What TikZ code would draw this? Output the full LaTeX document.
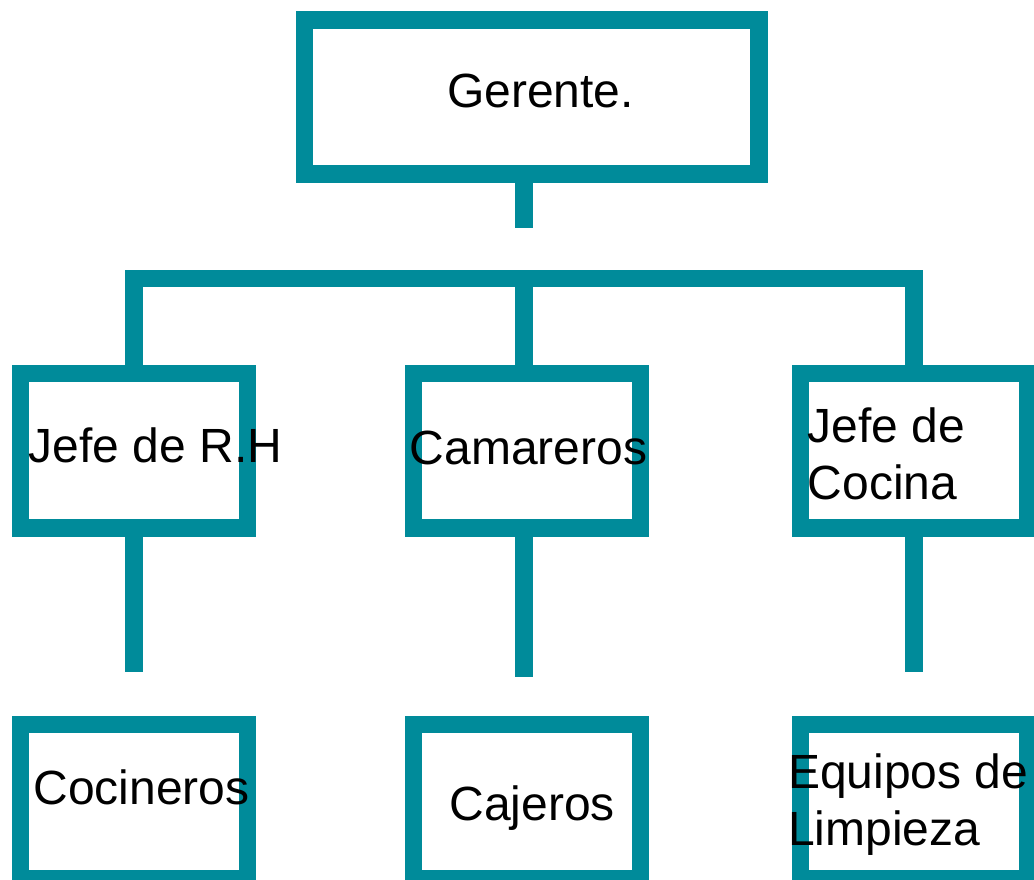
\documentclass[tikz,border=0pt]{standalone}
\usepackage{fontspec}
\setmainfont{Liberation Sans}
\definecolor{teal1}{RGB}{0,139,154}
\begin{document}
\begin{tikzpicture}[x=1pt,y=-1pt,
  box/.style={draw=teal1,line width=17.5pt,minimum width=226.8pt,minimum height=154.5pt,inner sep=0pt},
  link/.style={draw=teal1,line width=17.5pt,line join=miter},
  lbl/.style={inner sep=0pt,font=\fontsize{48}{57}\selectfont,align=left,text=black}]
\useasboundingbox (0,0) rectangle (1034,879);
% boxes
\node[box,minimum width=454.5pt,minimum height=154.4pt] (ger) at (531.5,97) {};
\node[box] (rh) at (134,450.5) {};
\node[box] (cam) at (527,450.5) {};
\node[box] (coc) at (914,450.5) {};
\node[box] (cin) at (134,801.5) {};
\node[box] (caj) at (527,801.5) {};
\node[box] (lim) at (914,801.5) {};
% texts
\node[lbl,anchor=base west] (tger) at (447,107.3) {Gerente.};
\node[lbl,anchor=base west] (trh) at (28.5,462) {Jefe de R.H};
\node[lbl,anchor=base west] (tcam) at (409.5,464) {Camareros};
\node[lbl,anchor=base west] (tcoc) at (807.5,499.5) {Jefe de\\Cocina};
\node[lbl,anchor=base west] (tcin) at (33.3,804) {Cocineros};
\node[lbl,anchor=base west] (tcaj) at (449.3,820) {Cajeros};
\node[lbl,anchor=base west] (tlim) at (788,845) {Equipos de\\Limpieza};
% connector points
\coordinate (bar) at (0,278.7);
\coordinate (s0) at (524,227.7);
\coordinate (s1) at (134,671.7);
\coordinate (s2) at (524,677.3);
\coordinate (s3) at (914,671.7);
% connectors
\draw[link] (s0 |- ger.south) -- (s0);
\draw[link] (rh.north) |- (coc.north |- bar) -- (coc.north);
\draw[link] (s0 |- bar) -- (s0 |- cam.north);
\draw[link] (rh.south) -- (s1);
\draw[link] (s2 |- cam.south) -- (s2);
\draw[link] (coc.south) -- (s3);
\end{tikzpicture}
\end{document}
